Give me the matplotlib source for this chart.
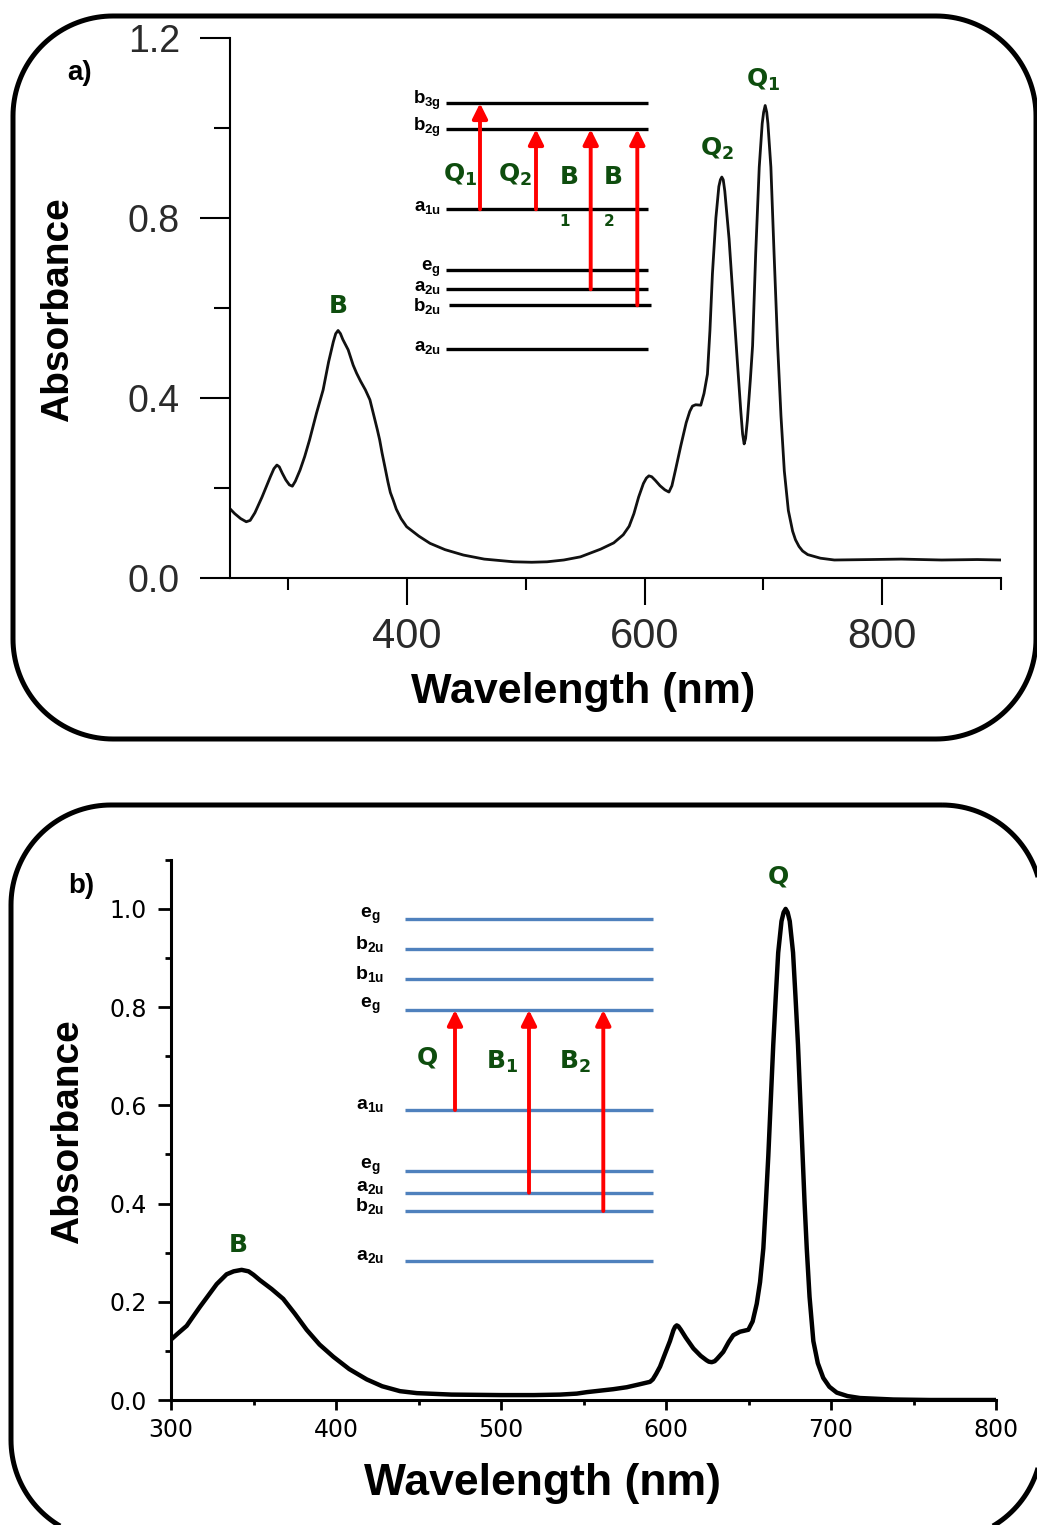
import matplotlib
matplotlib.use('Agg')
import numpy as np
import matplotlib.pyplot as plt
from matplotlib.patches import Polygon
from matplotlib.transforms import IdentityTransform
from matplotlib.ticker import FormatStrFormatter

plt.rcParams['font.family'] = ['Liberation Sans', 'DejaVu Sans']
plt.rcParams['mathtext.fontset'] = 'custom'
plt.rcParams['mathtext.bf'] = 'Liberation Sans:bold'
plt.rcParams['mathtext.rm'] = 'Liberation Sans:bold'

# ---------------- data: panel a ----------------
wl_a = [250.6, 255, 260, 264.7, 268, 272, 278, 285, 288, 290.5, 292.5, 295, 298, 301, 303.5, 306,
        310, 313.9, 318, 323.8, 329.4, 334, 338, 340, 342, 344, 346, 350.5, 354.7, 357.6, 361,
        365, 368.8, 372, 375, 377, 379, 381.4, 384, 386, 388.4, 391, 395, 399.7, 410, 419.4, 432,
        447.5, 465, 489.7, 505, 517.9, 532, 546, 562.9, 574, 582, 587, 591, 595, 599, 601.5, 603.6,
        606, 609, 613, 617, 620.5, 623, 626, 630.4, 635, 638, 640.3, 643, 647.3, 650, 652.9, 655,
        657.1, 660, 662.5, 663.8, 665, 666.2, 667.5, 671.1, 674.5, 678.2, 681, 682.5, 683.8, 685,
        686.5, 689, 690.9, 693.5, 696.5, 699, 700.2, 701.5, 702.8, 703.8, 706.3, 709, 712, 714.8,
        717.6, 721, 724.6, 727, 730, 733, 737.3, 748, 759.7, 790, 816, 850, 880, 900]
abs_a = [0.155, 0.143, 0.132, 0.125, 0.128, 0.145, 0.18, 0.225, 0.243, 0.251, 0.247, 0.233, 0.218, 0.207, 0.204, 0.215,
         0.24, 0.27, 0.307, 0.366, 0.418, 0.48, 0.525, 0.543, 0.55, 0.543, 0.53, 0.507, 0.473, 0.455, 0.437,
         0.418, 0.396, 0.362, 0.33, 0.307, 0.278, 0.247, 0.213, 0.19, 0.173, 0.153, 0.132, 0.114, 0.093, 0.077, 0.063,
         0.051, 0.042, 0.036, 0.035, 0.036, 0.04, 0.047, 0.064, 0.078, 0.096, 0.115, 0.143, 0.18, 0.21, 0.222, 0.227,
         0.225, 0.217, 0.205, 0.196, 0.191, 0.205, 0.24, 0.293, 0.345, 0.37, 0.382, 0.385, 0.384, 0.41, 0.453, 0.55,
         0.676, 0.8, 0.87, 0.885, 0.891, 0.885, 0.86, 0.754, 0.62, 0.476, 0.37, 0.32, 0.298, 0.31,
         0.35, 0.44, 0.516, 0.72, 0.913, 1.01, 1.035, 1.05, 1.035, 1.01, 0.913, 0.72, 0.516, 0.36,
         0.238, 0.15, 0.104, 0.085, 0.07, 0.06, 0.052, 0.044, 0.04, 0.041, 0.042, 0.04, 0.041, 0.04]

# ---------------- data: panel b ----------------
wl_b = [300, 304, 309.5, 313, 317.6, 322, 327.7, 333.7, 338, 342.8, 347, 350, 353.9, 361, 368, 375,
        382.2, 390, 398.4, 408, 418.6, 428, 438.8, 449, 470, 500, 520, 535.8, 545.9, 552, 560,
        568, 576.2, 584, 590.3, 592, 594, 596.4, 599.5, 602.4, 604.5, 605.5, 606.5, 607.5, 609, 612,
        616.6, 621, 624.5, 626, 627.7, 629.5, 631, 634.7, 638, 640.8, 644.8, 649.9, 652.5, 655, 657,
        659, 660.5, 662, 663.5, 665, 666.5, 668, 670, 671.3, 672.5, 673.7, 675, 677, 678.5, 680,
        681.4, 682.8, 684, 685.3, 687, 689.3, 692, 695.3, 699, 703.5, 710, 717.6, 737.8, 760, 800]
abs_b = [0.123, 0.135, 0.151, 0.168, 0.19, 0.21, 0.236, 0.256, 0.262, 0.265, 0.262, 0.255, 0.244, 0.226, 0.206, 0.176,
         0.143, 0.113, 0.088, 0.063, 0.042, 0.028, 0.018, 0.014, 0.011, 0.01, 0.01, 0.011, 0.013, 0.016, 0.019,
         0.022, 0.026, 0.032, 0.037, 0.042, 0.053, 0.068, 0.095, 0.12, 0.142, 0.149, 0.152, 0.15, 0.143, 0.127,
         0.105, 0.09, 0.081, 0.078, 0.077, 0.079, 0.084, 0.098, 0.118, 0.132, 0.139, 0.143, 0.16, 0.196, 0.24,
         0.309, 0.4, 0.497, 0.61, 0.723, 0.82, 0.911, 0.975, 0.993, 1.0, 0.993, 0.975, 0.911, 0.82, 0.723,
         0.61, 0.497, 0.4, 0.309, 0.21, 0.12, 0.075, 0.045, 0.027, 0.015, 0.008, 0.004, 0.001, 0.0, 0.0]

# ---------------- energy-level diagrams ----------------
levels_a_names = ['b$_\\mathbf{3g}$', 'b$_\\mathbf{2g}$', 'a$_\\mathbf{1u}$', 'e$_\\mathbf{g}$',
                  'a$_\\mathbf{2u}$', 'b$_\\mathbf{2u}$', 'a$_\\mathbf{2u}$']
levels_a_E = [256.7, 230.7, 150.7, 90, 70.7, 54.7, 10.7]
# transitions: (x, from level idx, to level idx)
trans_a = [(80, 2, 0), (136, 2, 1), (190.7, 4, 1), (237.3, 5, 1)]

levels_b_names = ['e$_\\mathbf{g}$', 'b$_\\mathbf{2u}$', 'b$_\\mathbf{1u}$', 'e$_\\mathbf{g}$',
                  'a$_\\mathbf{1u}$', 'e$_\\mathbf{g}$', 'a$_\\mathbf{2u}$', 'b$_\\mathbf{2u}$',
                  'a$_\\mathbf{2u}$']
levels_b_E = [360.7, 330.7, 300.7, 270, 170, 109, 87.3, 69, 19]
trans_b = [(125, 4, 3), (199, 6, 3), (273.3, 7, 3)]

GREEN = '#0e4d0e'
RED = '#ff0000'
BLUE = '#4f81bd'

W, H = 1037, 1525
fig = plt.figure(figsize=(W / 100, H / 100), dpi=100)


def rect(x0, y0, x1, y1):
    return [x0 / W, 1 - y1 / H, (x1 - x0) / W, (y1 - y0) / H]


def frame(x0, y0, x1, y1, r):
    # rounded frame outline in pixel coordinates (y downward), returned in display coords
    pts = []
    corners = [(x1 - r, y0 + r, -90, 0), (x1 - r, y1 - r, 0, 90),
               (x0 + r, y1 - r, 90, 180), (x0 + r, y0 + r, 180, 270)]
    for cx, cy, a0, a1 in corners:
        t = np.radians(np.linspace(a0, a1, 40))
        for xx, yy in zip(cx + r * np.cos(t), cy + r * np.sin(t)):
            pts.append((xx, H - yy))
    return np.array(pts)


for box in [(13, 16, 1036, 739), (11, 805, 1042, 1540)]:
    fig.add_artist(Polygon(frame(*box, r=100), closed=True, fill=False, ec='black', lw=3.6,
                           joinstyle='round', transform=IdentityTransform()))

# ================= panel a =================
ax = fig.add_axes(rect(229.5, 38, 1001, 578))
ax.plot(wl_a, abs_a, color='#111111', lw=2.0, solid_joinstyle='round')
ax.set_xlim(250.6, 900)
ax.set_ylim(0, 1.2)
ax.spines['top'].set_visible(False)
ax.spines['right'].set_visible(False)
for s in ['left', 'bottom']:
    ax.spines[s].set_linewidth(1.5)
ax.set_xticks([400, 600, 800])
ax.set_xticks([300, 500, 700, 900], minor=True)
ax.set_yticks([0, 0.4, 0.8, 1.2])
ax.set_yticks([0.2, 0.6, 1.0], minor=True)
ax.yaxis.set_major_formatter(FormatStrFormatter('%.1f'))
ax.tick_params(axis='y', which='major', direction='out', length=21.6, width=1.5, pad=14,
               labelsize=27, labelcolor='#2a2a2a')
ax.tick_params(axis='y', which='minor', direction='out', length=11.5, width=1.5)
ax.tick_params(axis='x', which='major', direction='out', length=19.4, width=1.5, pad=9,
               labelsize=30, labelcolor='#2a2a2a')
ax.tick_params(axis='x', which='minor', direction='out', length=8.6, width=1.5)
ax.patch.set_alpha(0)

ax.text(341.8, 0.604, 'B', color=GREEN, fontsize=18, fontweight='bold', family='DejaVu Sans',
        ha='center', va='center')
ax.text(660.8, 0.953, 'Q$_\\mathbf{2}$', color=GREEN, fontsize=18, fontweight='bold',
        family='DejaVu Sans', math_fontfamily='dejavusans', ha='center', va='center')
ax.text(699.6, 1.107, 'Q$_\\mathbf{1}$', color=GREEN, fontsize=18, fontweight='bold',
        family='DejaVu Sans', math_fontfamily='dejavusans', ha='center', va='center')

fig.text(58 / W, 1 - 310 / H, 'Absorbance', rotation=90, ha='center', va='center',
         fontsize=28, fontweight='bold')
fig.text(583 / W, 1 - 692 / H, 'Wavelength (nm)', ha='center', va='center',
         fontsize=31, fontweight='bold')
fig.text(80 / W, 1 - 73 / H, 'a)', ha='center', va='center', fontsize=20, fontweight='bold')

# diagram a
da = fig.add_axes(rect(400, 90, 660, 360))
da.set_xlim(0, 260)
da.set_ylim(0, 270)
da.axis('off')
label_shift_a = [3, 2, 1, 1, 0.5, -1.5, 1]
for i, (name, E) in enumerate(zip(levels_a_names, levels_a_E)):
    x0, x1 = (49, 251) if i == 5 else (46, 248)
    da.hlines(E, x0, x1, color='black', lw=2.4)
    da.text(41, E + label_shift_a[i], name, ha='right', va='center', fontsize=13.5,
            fontweight='bold', math_fontfamily='custom')
for (x, i0, i1) in trans_a:
    da.annotate('', xy=(x, levels_a_E[i1]), xytext=(x, levels_a_E[i0]),
                arrowprops=dict(arrowstyle='-|>,head_length=0.6,head_width=0.3', color=RED,
                                lw=2.8, shrinkA=0, shrinkB=0, mutation_scale=15))
gkw = dict(color=GREEN, fontweight='bold', family='DejaVu Sans', math_fontfamily='dejavusans',
           ha='center', va='center')
da.text(60, 185, 'Q$_\\mathbf{1}$', fontsize=18, **gkw)
da.text(115, 185, 'Q$_\\mathbf{2}$', fontsize=18, **gkw)
da.text(169, 183, 'B', fontsize=18, **gkw)
da.text(213, 183, 'B', fontsize=18, **gkw)
da.text(165, 138, '1', fontsize=11, **gkw)
da.text(209, 138, '2', fontsize=11, **gkw)

# ================= panel b =================
bx = fig.add_axes(rect(171, 859.8, 996, 1400))
bx.plot(wl_b, abs_b, color='black', lw=3.2, solid_joinstyle='round')
bx.set_xlim(300, 800)
bx.set_ylim(0, 1.1)
bx.spines['top'].set_visible(False)
bx.spines['right'].set_visible(False)
for s in ['left', 'bottom']:
    bx.spines[s].set_linewidth(2.2)
bx.set_xticks([300, 400, 500, 600, 700, 800])
bx.set_xticks([350, 450, 550, 650, 750], minor=True)
bx.set_yticks([0, 0.2, 0.4, 0.6, 0.8, 1.0])
bx.set_yticks([0.1, 0.3, 0.5, 0.7, 0.9, 1.1], minor=True)
bx.yaxis.set_major_formatter(FormatStrFormatter('%.1f'))
tkw = dict(labelfontfamily='DejaVu Sans')
bx.tick_params(axis='y', which='major', direction='out', length=9.4, width=2.0, pad=8,
               labelsize=17, **tkw)
bx.tick_params(axis='y', which='minor', direction='out', length=4.3, width=2.0)
bx.tick_params(axis='x', which='major', direction='out', length=7.2, width=2.0, pad=6,
               labelsize=17, **tkw)
bx.tick_params(axis='x', which='minor', direction='out', length=3.6, width=2.0)
bx.patch.set_alpha(0)

bx.text(340.6, 0.316, 'B', color=GREEN, fontsize=18, fontweight='bold', family='DejaVu Sans',
        ha='center', va='center')
bx.text(667.9, 1.065, 'Q', color=GREEN, fontsize=18, fontweight='bold', family='DejaVu Sans',
        ha='center', va='center')

fig.text(68 / W, 1 - 1132 / H, 'Absorbance', rotation=90, ha='center', va='center',
         fontsize=28, fontweight='bold')
fig.text(543 / W, 1 - 1483 / H, 'Wavelength (nm)', ha='center', va='center',
         fontsize=32, fontweight='bold')
fig.text(81 / W, 1 - 886 / H, 'b)', ha='center', va='center', fontsize=20, fontweight='bold')

# diagram b
db = fig.add_axes(rect(330, 890, 670, 1280))
db.set_xlim(0, 340)
db.set_ylim(0, 390)
db.axis('off')
for name, E in zip(levels_b_names, levels_b_E):
    db.hlines(E, 75, 322.7, color=BLUE, lw=2.4)
    db.text(40, E + 4, name, ha='center', va='center', fontsize=14, fontweight='bold',
            math_fontfamily='custom')
for (x, i0, i1) in trans_b:
    db.annotate('', xy=(x, levels_b_E[i1]), xytext=(x, levels_b_E[i0]),
                arrowprops=dict(arrowstyle='-|>,head_length=0.6,head_width=0.3', color=RED,
                                lw=2.8, shrinkA=0, shrinkB=0, mutation_scale=15))
db.text(97, 222, 'Q', fontsize=18, **gkw)
db.text(172, 218, 'B$_\\mathbf{1}$', fontsize=18, **gkw)
db.text(245, 218, 'B$_\\mathbf{2}$', fontsize=18, **gkw)

fig.savefig('out.png', dpi=100)
